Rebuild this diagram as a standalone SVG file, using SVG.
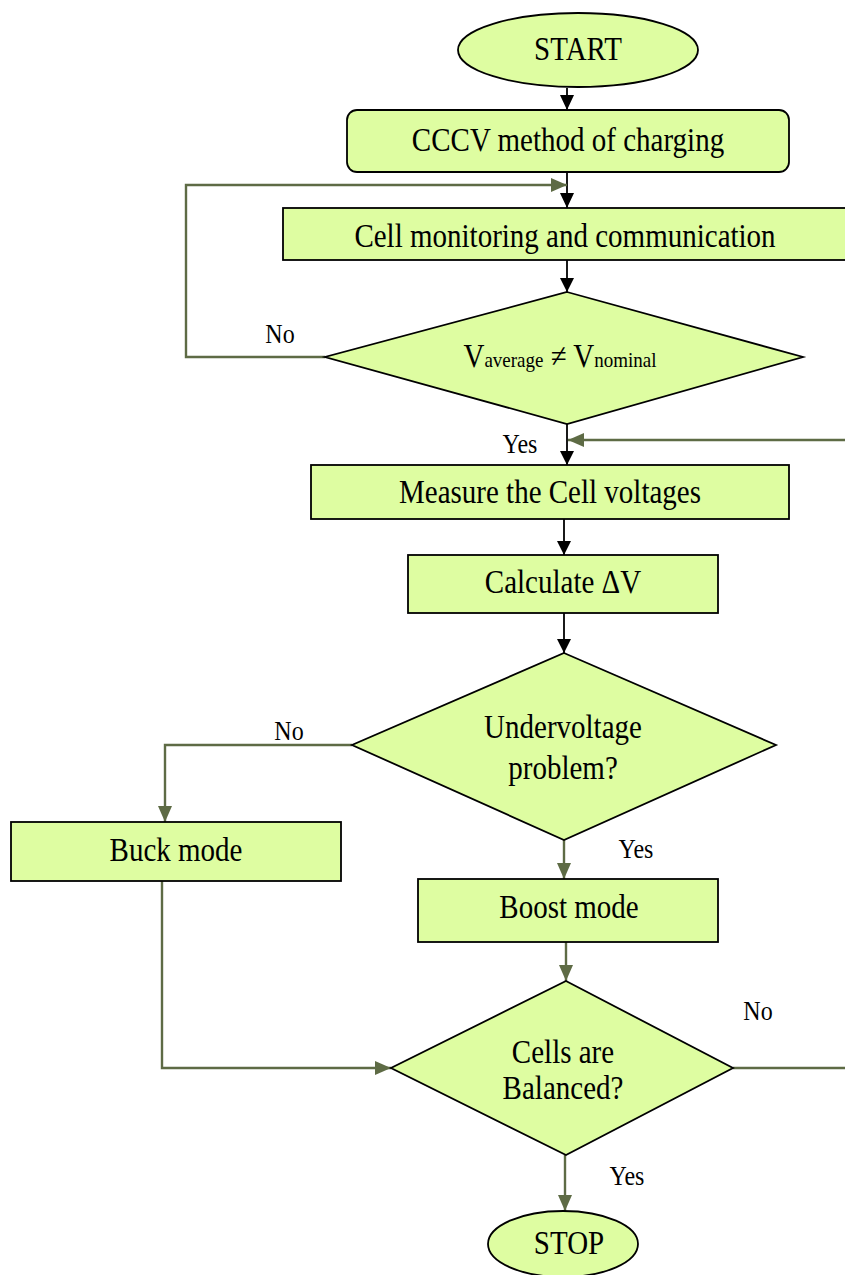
<svg xmlns="http://www.w3.org/2000/svg" width="845" height="1275" viewBox="0 0 845 1275">
<style>
.n{fill:#DEFDA1;stroke:#000;stroke-width:1.8}
.t{font-family:"Liberation Serif","Times New Roman",serif;font-size:29px;fill:#000;text-anchor:middle}
.l{font-family:"Liberation Serif","Times New Roman",serif;font-size:24px;fill:#000;text-anchor:middle}
.k{fill:none;stroke:#000;stroke-width:1.8}
.g{fill:none;stroke:#5E6B45;stroke-width:2.4}
</style>
<defs>
<marker id="ag" markerWidth="16" markerHeight="14" refX="16" refY="7" orient="auto" markerUnits="userSpaceOnUse" viewBox="0 0 16 14"><path d="M0,0 L16,7 L0,14 Z" fill="#5E6B45"/></marker>
</defs>
<rect width="845" height="1275" fill="#fff"/>
<g id="connectors">
<path class="k" d="M567,88 V110"/>
<path d="M560,95 L567,110 L574,95 Z" fill="#000"/>
<path class="k" d="M567,172 V208"/>
<path d="M560,193 L567,208 L574,193 Z" fill="#000"/>
<path class="g" d="M325,357 H186 V185 H567" marker-end="url(#ag)"/>
<path class="k" d="M567,260 V292"/>
<path d="M560,278 L567,292 L574,278 Z" fill="#000"/>
<path class="k" d="M567,424 V465"/>
<path d="M560,451 L567,465 L574,451 Z" fill="#000"/>
<path class="g" d="M845,440 H568" marker-end="url(#ag)"/>
<path class="k" d="M564,519 V555"/>
<path d="M557,541 L564,555 L571,541 Z" fill="#000"/>
<path class="k" d="M564,613 V653"/>
<path d="M557,639 L564,653 L571,639 Z" fill="#000"/>
<path class="g" d="M352,745 H165 V822" marker-end="url(#ag)"/>
<path class="g" d="M564,840 V879" marker-end="url(#ag)"/>
<path class="g" d="M566,942 V981" marker-end="url(#ag)"/>
<path class="g" d="M162,881 V1068 H391" marker-end="url(#ag)"/>
<path class="g" d="M733,1068 H845"/>
<path class="g" d="M565,1155 V1211" marker-end="url(#ag)"/>
</g>
<g id="labels">
<text class="l" transform="translate(280,343) scale(1,1.15)">No</text>
<text class="l" transform="translate(520,453) scale(1,1.15)">Yes</text>
<text class="l" transform="translate(289,740) scale(1,1.15)">No</text>
<text class="l" transform="translate(636,858) scale(1,1.15)">Yes</text>
<text class="l" transform="translate(758,1020) scale(1,1.15)">No</text>
<text class="l" transform="translate(627,1185) scale(1,1.15)">Yes</text>
</g>
<g id="start">
<ellipse class="n" cx="578" cy="50" rx="120" ry="37"/>
<text class="t" transform="translate(578,60) scale(1,1.15)">START</text>
</g>
<g id="cccv">
<rect class="n" x="347" y="110" width="442" height="62" rx="10"/>
<text class="t" transform="translate(568,151) scale(1,1.15)">CCCV method of charging</text>
</g>
<g id="monitor">
<rect class="n" x="283" y="208" width="580" height="52"/>
<text class="t" transform="translate(565,247) scale(1,1.15)">Cell monitoring and communication</text>
</g>
<g id="dec1">
<polygon class="n" points="567,292 803,357 567,424 325,357"/>
<text class="t" transform="translate(560,367) scale(1,1.15)">V<tspan font-size="19">average</tspan> ≠ V<tspan font-size="19">nominal</tspan></text>
</g>
<g id="measure">
<rect class="n" x="311" y="465" width="478" height="54"/>
<text class="t" transform="translate(550,503) scale(1,1.15)">Measure the Cell voltages</text>
</g>
<g id="calc">
<rect class="n" x="408" y="555" width="310" height="58"/>
<text class="t" transform="translate(563,593) scale(1,1.15)">Calculate ΔV</text>
</g>
<g id="dec2">
<polygon class="n" points="564,653 776,745 564,840 352,745"/>
<text class="t" transform="translate(563,738) scale(1,1.15)">Undervoltage</text>
<text class="t" transform="translate(563,779) scale(1,1.15)">problem?</text>
</g>
<g id="buck">
<rect class="n" x="11" y="822" width="330" height="59"/>
<text class="t" transform="translate(176,861) scale(1,1.15)">Buck mode</text>
</g>
<g id="boost">
<rect class="n" x="418" y="879" width="300" height="63"/>
<text class="t" transform="translate(569,918) scale(1,1.15)">Boost mode</text>
</g>
<g id="dec3">
<polygon class="n" points="566,981 733,1068 566,1155 391,1068"/>
<text class="t" transform="translate(563,1063) scale(1,1.15)">Cells are</text>
<text class="t" transform="translate(563,1099) scale(1,1.15)">Balanced?</text>
</g>
<g id="stop">
<ellipse class="n" cx="563" cy="1244" rx="75" ry="33"/>
<text class="t" transform="translate(569,1254) scale(1,1.15)">STOP</text>
</g>
</svg>
